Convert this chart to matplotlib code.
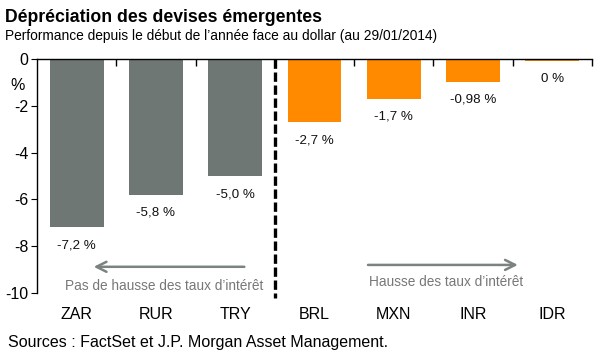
import matplotlib
matplotlib.use("Agg")
import matplotlib.pyplot as plt

plt.rcParams['font.family'] = ['Liberation Sans', 'DejaVu Sans']

categories = ["ZAR", "RUR", "TRY", "BRL", "MXN", "INR", "IDR"]
values = [-7.2, -5.8, -5.0, -2.7, -1.7, -0.98, -0.08]
labels = ["-7,2 %", "-5,8 %", "-5,0 %", "-2,7 %", "-1,7 %", "-0,98 %", "0 %"]
groups = ["no", "no", "no", "yes", "yes", "yes", "yes"]
yticks = [0, -2, -4, -6, -8, -10]

GRAY = "#6f7774"
ORANGE = "#ff8a00"
ARROW = "#7a8380"

fig = plt.figure(figsize=(6.10, 3.62), dpi=100)
ax = fig.add_axes([37/610, 1-293/362, (592-37)/610, (293-59)/362])

x = list(range(len(categories)))
colors = [GRAY if g == "no" else ORANGE for g in groups]
ax.bar(x, values, width=0.68, color=colors, edgecolor="none")

ax.set_xlim(-0.5, len(categories) - 0.5)
ax.set_ylim(-10, 0)

for xi, v, lab in zip(x, values, labels):
    ax.annotate(lab, (xi, v), xytext=(0, -13), textcoords="offset points",
                ha="center", va="center", fontsize=9.6, color="#111111")

for s in ["right", "bottom"]:
    ax.spines[s].set_visible(False)
ax.spines["left"].set_linewidth(1.0)
ax.spines["top"].set_linewidth(1.0)
ax.set_yticks(yticks)
ax.set_yticklabels([str(t) for t in yticks], fontsize=11.5)
ax.tick_params(axis="y", direction="out", length=4, pad=2)

ax.set_xticks(x)
ax.set_xticklabels(categories, fontsize=11.5)
ax.tick_params(axis="x", which="major", bottom=False, top=False, length=0, pad=10)
ax.set_xticks([i + 0.5 for i in x], minor=True)
ax.tick_params(axis="x", which="minor", bottom=False, top=True, direction="in", length=5, width=1)

fig.text(18/610, 1-85/362, "%", fontsize=11.5, ha="center", va="center")

# dashed separator
ax.plot([2.5, 2.5], [0, -10.2], color="black", lw=2.4, ls=(0, (2.8, 1.1)), clip_on=False)

# arrows
ax.annotate("", xy=(0.18, -8.88), xytext=(2.15, -8.88),
            arrowprops=dict(arrowstyle="->", color=ARROW, lw=1.8, mutation_scale=18))
ax.text(1.10, -9.72, "Pas de hausse des taux d\u2019int\u00e9r\u00eat", ha="center", va="center",
        fontsize=9.8, color="#777777")
ax.annotate("", xy=(5.6, -8.8), xytext=(3.64, -8.8),
            arrowprops=dict(arrowstyle="->", color=ARROW, lw=1.8, mutation_scale=18))
ax.text(4.66, -9.52, "Hausse des taux d\u2019int\u00e9r\u00eat", ha="center", va="center",
        fontsize=9.8, color="#777777")

fig.text(5/610, 1-17/362, "D\u00e9pr\u00e9ciation des devises \u00e9mergentes", fontsize=12.7,
         fontweight="bold", ha="left", va="center")
fig.text(5/610, 1-36/362, "Performance depuis le d\u00e9but de l\u2019ann\u00e9e face au dollar (au 29/01/2014)",
         fontsize=9.9, ha="left", va="center")
fig.text(8/610, 1-342/362, "Sources : FactSet et J.P. Morgan Asset Management.", fontsize=11.5,
         ha="left", va="center")

fig.savefig("out.png", dpi=100)
